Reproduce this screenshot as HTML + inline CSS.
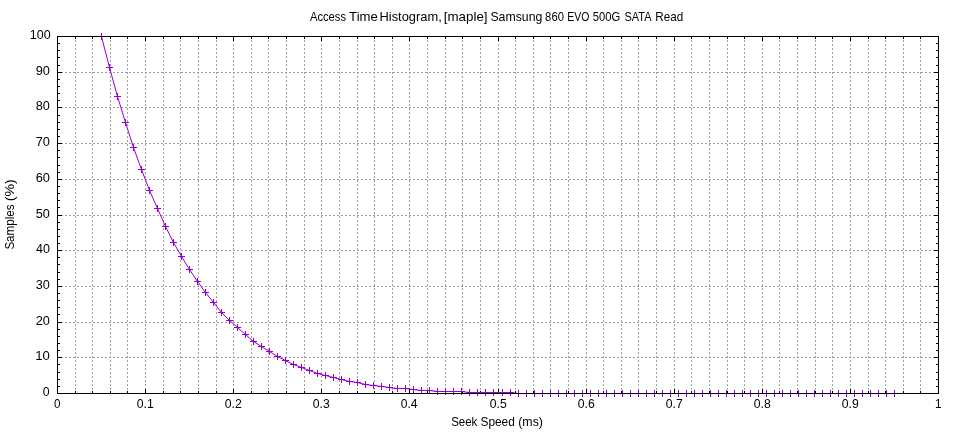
<!DOCTYPE html>
<html><head><meta charset="utf-8"><title>Access Time Histogram</title>
<style>html,body{margin:0;padding:0;background:#fff;overflow:hidden}svg{display:block;will-change:transform}text{font-family:"Liberation Sans",sans-serif;fill:#000}</style></head><body>
<svg width="960" height="432" viewBox="0 0 960 432">
<rect width="960" height="432" fill="#fff"/>
<g shape-rendering="crispEdges" stroke="#a0a0a0" stroke-width="1" stroke-dasharray="2 2" fill="none">
<path d="M75.5 394 V36"/>
<path d="M92.5 394 V36"/>
<path d="M110.5 394 V36"/>
<path d="M127.5 394 V36"/>
<path d="M145.5 394 V36"/>
<path d="M163.5 394 V36"/>
<path d="M180.5 394 V36"/>
<path d="M198.5 394 V36"/>
<path d="M216.5 394 V36"/>
<path d="M233.5 394 V36"/>
<path d="M251.5 394 V36"/>
<path d="M268.5 394 V36"/>
<path d="M286.5 394 V36"/>
<path d="M304.5 394 V36"/>
<path d="M321.5 394 V36"/>
<path d="M339.5 394 V36"/>
<path d="M357.5 394 V36"/>
<path d="M374.5 394 V36"/>
<path d="M392.5 394 V36"/>
<path d="M409.5 394 V36"/>
<path d="M427.5 394 V36"/>
<path d="M445.5 394 V36"/>
<path d="M462.5 394 V36"/>
<path d="M480.5 394 V36"/>
<path d="M498.5 394 V36"/>
<path d="M515.5 394 V36"/>
<path d="M533.5 394 V36"/>
<path d="M550.5 394 V36"/>
<path d="M568.5 394 V36"/>
<path d="M586.5 394 V36"/>
<path d="M603.5 394 V36"/>
<path d="M621.5 394 V36"/>
<path d="M638.5 394 V36"/>
<path d="M656.5 394 V36"/>
<path d="M674.5 394 V36"/>
<path d="M691.5 394 V36"/>
<path d="M709.5 394 V36"/>
<path d="M727.5 394 V36"/>
<path d="M744.5 394 V36"/>
<path d="M762.5 394 V36"/>
<path d="M779.5 394 V36"/>
<path d="M797.5 394 V36"/>
<path d="M815.5 394 V36"/>
<path d="M832.5 394 V36"/>
<path d="M850.5 394 V36"/>
<path d="M868.5 394 V36"/>
<path d="M885.5 394 V36"/>
<path d="M903.5 394 V36"/>
<path d="M920.5 394 V36"/>
<path d="M57 357.5 H939"/>
<path d="M57 322.5 H939"/>
<path d="M57 286.5 H939"/>
<path d="M57 250.5 H939"/>
<path d="M57 215.5 H939"/>
<path d="M57 179.5 H939"/>
<path d="M57 143.5 H939"/>
<path d="M57 107.5 H939"/>
<path d="M57 72.5 H939"/>
</g>
<g shape-rendering="crispEdges" fill="#000">
<rect x="57" y="389" width="1" height="4"/>
<rect x="57" y="37" width="1" height="4"/>
<rect x="75" y="391" width="1" height="2"/>
<rect x="75" y="37" width="1" height="2"/>
<rect x="92" y="391" width="1" height="2"/>
<rect x="92" y="37" width="1" height="2"/>
<rect x="110" y="391" width="1" height="2"/>
<rect x="110" y="37" width="1" height="2"/>
<rect x="127" y="391" width="1" height="2"/>
<rect x="127" y="37" width="1" height="2"/>
<rect x="145" y="389" width="1" height="4"/>
<rect x="145" y="37" width="1" height="4"/>
<rect x="163" y="391" width="1" height="2"/>
<rect x="163" y="37" width="1" height="2"/>
<rect x="180" y="391" width="1" height="2"/>
<rect x="180" y="37" width="1" height="2"/>
<rect x="198" y="391" width="1" height="2"/>
<rect x="198" y="37" width="1" height="2"/>
<rect x="216" y="391" width="1" height="2"/>
<rect x="216" y="37" width="1" height="2"/>
<rect x="233" y="389" width="1" height="4"/>
<rect x="233" y="37" width="1" height="4"/>
<rect x="251" y="391" width="1" height="2"/>
<rect x="251" y="37" width="1" height="2"/>
<rect x="268" y="391" width="1" height="2"/>
<rect x="268" y="37" width="1" height="2"/>
<rect x="286" y="391" width="1" height="2"/>
<rect x="286" y="37" width="1" height="2"/>
<rect x="304" y="391" width="1" height="2"/>
<rect x="304" y="37" width="1" height="2"/>
<rect x="321" y="389" width="1" height="4"/>
<rect x="321" y="37" width="1" height="4"/>
<rect x="339" y="391" width="1" height="2"/>
<rect x="339" y="37" width="1" height="2"/>
<rect x="357" y="391" width="1" height="2"/>
<rect x="357" y="37" width="1" height="2"/>
<rect x="374" y="391" width="1" height="2"/>
<rect x="374" y="37" width="1" height="2"/>
<rect x="392" y="391" width="1" height="2"/>
<rect x="392" y="37" width="1" height="2"/>
<rect x="409" y="389" width="1" height="4"/>
<rect x="409" y="37" width="1" height="4"/>
<rect x="427" y="391" width="1" height="2"/>
<rect x="427" y="37" width="1" height="2"/>
<rect x="445" y="391" width="1" height="2"/>
<rect x="445" y="37" width="1" height="2"/>
<rect x="462" y="391" width="1" height="2"/>
<rect x="462" y="37" width="1" height="2"/>
<rect x="480" y="391" width="1" height="2"/>
<rect x="480" y="37" width="1" height="2"/>
<rect x="498" y="389" width="1" height="4"/>
<rect x="498" y="37" width="1" height="4"/>
<rect x="515" y="391" width="1" height="2"/>
<rect x="515" y="37" width="1" height="2"/>
<rect x="533" y="391" width="1" height="2"/>
<rect x="533" y="37" width="1" height="2"/>
<rect x="550" y="391" width="1" height="2"/>
<rect x="550" y="37" width="1" height="2"/>
<rect x="568" y="391" width="1" height="2"/>
<rect x="568" y="37" width="1" height="2"/>
<rect x="586" y="389" width="1" height="4"/>
<rect x="586" y="37" width="1" height="4"/>
<rect x="603" y="391" width="1" height="2"/>
<rect x="603" y="37" width="1" height="2"/>
<rect x="621" y="391" width="1" height="2"/>
<rect x="621" y="37" width="1" height="2"/>
<rect x="638" y="391" width="1" height="2"/>
<rect x="638" y="37" width="1" height="2"/>
<rect x="656" y="391" width="1" height="2"/>
<rect x="656" y="37" width="1" height="2"/>
<rect x="674" y="389" width="1" height="4"/>
<rect x="674" y="37" width="1" height="4"/>
<rect x="691" y="391" width="1" height="2"/>
<rect x="691" y="37" width="1" height="2"/>
<rect x="709" y="391" width="1" height="2"/>
<rect x="709" y="37" width="1" height="2"/>
<rect x="727" y="391" width="1" height="2"/>
<rect x="727" y="37" width="1" height="2"/>
<rect x="744" y="391" width="1" height="2"/>
<rect x="744" y="37" width="1" height="2"/>
<rect x="762" y="389" width="1" height="4"/>
<rect x="762" y="37" width="1" height="4"/>
<rect x="779" y="391" width="1" height="2"/>
<rect x="779" y="37" width="1" height="2"/>
<rect x="797" y="391" width="1" height="2"/>
<rect x="797" y="37" width="1" height="2"/>
<rect x="815" y="391" width="1" height="2"/>
<rect x="815" y="37" width="1" height="2"/>
<rect x="832" y="391" width="1" height="2"/>
<rect x="832" y="37" width="1" height="2"/>
<rect x="850" y="389" width="1" height="4"/>
<rect x="850" y="37" width="1" height="4"/>
<rect x="868" y="391" width="1" height="2"/>
<rect x="868" y="37" width="1" height="2"/>
<rect x="885" y="391" width="1" height="2"/>
<rect x="885" y="37" width="1" height="2"/>
<rect x="903" y="391" width="1" height="2"/>
<rect x="903" y="37" width="1" height="2"/>
<rect x="920" y="391" width="1" height="2"/>
<rect x="920" y="37" width="1" height="2"/>
<rect x="938" y="389" width="1" height="4"/>
<rect x="938" y="37" width="1" height="4"/>
<rect x="58" y="393" width="4" height="1"/>
<rect x="934" y="393" width="4" height="1"/>
<rect x="58" y="386" width="2" height="1"/>
<rect x="936" y="386" width="2" height="1"/>
<rect x="58" y="379" width="2" height="1"/>
<rect x="936" y="379" width="2" height="1"/>
<rect x="58" y="372" width="2" height="1"/>
<rect x="936" y="372" width="2" height="1"/>
<rect x="58" y="364" width="2" height="1"/>
<rect x="936" y="364" width="2" height="1"/>
<rect x="58" y="357" width="4" height="1"/>
<rect x="934" y="357" width="4" height="1"/>
<rect x="58" y="350" width="2" height="1"/>
<rect x="936" y="350" width="2" height="1"/>
<rect x="58" y="343" width="2" height="1"/>
<rect x="936" y="343" width="2" height="1"/>
<rect x="58" y="336" width="2" height="1"/>
<rect x="936" y="336" width="2" height="1"/>
<rect x="58" y="329" width="2" height="1"/>
<rect x="936" y="329" width="2" height="1"/>
<rect x="58" y="322" width="4" height="1"/>
<rect x="934" y="322" width="4" height="1"/>
<rect x="58" y="314" width="2" height="1"/>
<rect x="936" y="314" width="2" height="1"/>
<rect x="58" y="307" width="2" height="1"/>
<rect x="936" y="307" width="2" height="1"/>
<rect x="58" y="300" width="2" height="1"/>
<rect x="936" y="300" width="2" height="1"/>
<rect x="58" y="293" width="2" height="1"/>
<rect x="936" y="293" width="2" height="1"/>
<rect x="58" y="286" width="4" height="1"/>
<rect x="934" y="286" width="4" height="1"/>
<rect x="58" y="279" width="2" height="1"/>
<rect x="936" y="279" width="2" height="1"/>
<rect x="58" y="272" width="2" height="1"/>
<rect x="936" y="272" width="2" height="1"/>
<rect x="58" y="264" width="2" height="1"/>
<rect x="936" y="264" width="2" height="1"/>
<rect x="58" y="257" width="2" height="1"/>
<rect x="936" y="257" width="2" height="1"/>
<rect x="58" y="250" width="4" height="1"/>
<rect x="934" y="250" width="4" height="1"/>
<rect x="58" y="243" width="2" height="1"/>
<rect x="936" y="243" width="2" height="1"/>
<rect x="58" y="236" width="2" height="1"/>
<rect x="936" y="236" width="2" height="1"/>
<rect x="58" y="229" width="2" height="1"/>
<rect x="936" y="229" width="2" height="1"/>
<rect x="58" y="222" width="2" height="1"/>
<rect x="936" y="222" width="2" height="1"/>
<rect x="58" y="215" width="4" height="1"/>
<rect x="934" y="215" width="4" height="1"/>
<rect x="58" y="207" width="2" height="1"/>
<rect x="936" y="207" width="2" height="1"/>
<rect x="58" y="200" width="2" height="1"/>
<rect x="936" y="200" width="2" height="1"/>
<rect x="58" y="193" width="2" height="1"/>
<rect x="936" y="193" width="2" height="1"/>
<rect x="58" y="186" width="2" height="1"/>
<rect x="936" y="186" width="2" height="1"/>
<rect x="58" y="179" width="4" height="1"/>
<rect x="934" y="179" width="4" height="1"/>
<rect x="58" y="172" width="2" height="1"/>
<rect x="936" y="172" width="2" height="1"/>
<rect x="58" y="165" width="2" height="1"/>
<rect x="936" y="165" width="2" height="1"/>
<rect x="58" y="157" width="2" height="1"/>
<rect x="936" y="157" width="2" height="1"/>
<rect x="58" y="150" width="2" height="1"/>
<rect x="936" y="150" width="2" height="1"/>
<rect x="58" y="143" width="4" height="1"/>
<rect x="934" y="143" width="4" height="1"/>
<rect x="58" y="136" width="2" height="1"/>
<rect x="936" y="136" width="2" height="1"/>
<rect x="58" y="129" width="2" height="1"/>
<rect x="936" y="129" width="2" height="1"/>
<rect x="58" y="122" width="2" height="1"/>
<rect x="936" y="122" width="2" height="1"/>
<rect x="58" y="115" width="2" height="1"/>
<rect x="936" y="115" width="2" height="1"/>
<rect x="58" y="107" width="4" height="1"/>
<rect x="934" y="107" width="4" height="1"/>
<rect x="58" y="100" width="2" height="1"/>
<rect x="936" y="100" width="2" height="1"/>
<rect x="58" y="93" width="2" height="1"/>
<rect x="936" y="93" width="2" height="1"/>
<rect x="58" y="86" width="2" height="1"/>
<rect x="936" y="86" width="2" height="1"/>
<rect x="58" y="79" width="2" height="1"/>
<rect x="936" y="79" width="2" height="1"/>
<rect x="58" y="72" width="4" height="1"/>
<rect x="934" y="72" width="4" height="1"/>
<rect x="58" y="65" width="2" height="1"/>
<rect x="936" y="65" width="2" height="1"/>
<rect x="58" y="57" width="2" height="1"/>
<rect x="936" y="57" width="2" height="1"/>
<rect x="58" y="50" width="2" height="1"/>
<rect x="936" y="50" width="2" height="1"/>
<rect x="58" y="43" width="2" height="1"/>
<rect x="936" y="43" width="2" height="1"/>
<rect x="58" y="36" width="4" height="1"/>
<rect x="934" y="36" width="4" height="1"/>
</g>
<g stroke="#9400d3" fill="none">
<path d="M101.50 36.50 L109.50 67.50 L117.50 96.50 L125.50 122.50 L133.50 147.50 L141.50 169.50 L149.50 190.50 L157.50 208.50 L165.50 226.50 L173.50 242.50 L181.50 256.50 L189.50 269.50 L197.50 281.50 L205.50 292.50 L213.50 302.50 L221.50 312.50 L229.50 320.50 L237.50 327.50 L245.50 334.50 L253.50 341.50 L261.50 346.50 L269.50 351.50 L277.50 356.50 L285.50 360.50 L293.50 364.50 L301.50 367.50 L309.50 370.50 L317.50 373.50 L325.50 375.50 L333.50 377.50 L341.50 379.50 L349.50 381.50 L357.50 382.50 L365.50 384.50 L373.50 385.50 L381.50 386.50 L389.50 387.50 L397.50 388.50 L405.50 388.50 L413.50 389.50 L421.50 390.50 L429.50 390.50 L437.50 391.50 L445.50 391.50 L453.50 391.50 L461.50 391.50 L469.50 392.50 L477.50 392.50 L485.50 392.50 L493.50 392.50 L502.50 392.50 L510.50 392.50 L518.50 393.50 L526.50 393.50 L534.50 393.50 L542.50 393.50 L550.50 393.50 L558.50 393.50 L566.50 393.50 L574.50 393.50 L582.50 393.50 L590.50 393.50 L598.50 393.50 L606.50 393.50 L614.50 393.50 L622.50 393.50 L630.50 393.50 L638.50 393.50 L646.50 393.50 L654.50 393.50 L662.50 393.50 L670.50 393.50 L678.50 393.50 L686.50 393.50 L694.50 393.50 L702.50 393.50 L710.50 393.50 L718.50 393.50 L726.50 393.50 L734.50 393.50 L742.50 393.50 L750.50 393.50 L758.50 393.50 L766.50 393.50 L774.50 393.50 L782.50 393.50 L790.50 393.50 L798.50 393.50 L806.50 393.50 L814.50 393.50 L822.50 393.50 L830.50 393.50 L838.50 393.50 L846.50 393.50 L854.50 393.50 L862.50 393.50 L870.50 393.50 L878.50 393.50 L886.50 393.50 L894.50 393.50" stroke-width="1" stroke-linejoin="round"/>
<path d="M98.0 36.5h7M101.5 33.0v7M106.0 67.5h7M109.5 64.0v7M114.0 96.5h7M117.5 93.0v7M122.0 122.5h7M125.5 119.0v7M130.0 147.5h7M133.5 144.0v7M138.0 169.5h7M141.5 166.0v7M146.0 190.5h7M149.5 187.0v7M154.0 208.5h7M157.5 205.0v7M162.0 226.5h7M165.5 223.0v7M170.0 242.5h7M173.5 239.0v7M178.0 256.5h7M181.5 253.0v7M186.0 269.5h7M189.5 266.0v7M194.0 281.5h7M197.5 278.0v7M202.0 292.5h7M205.5 289.0v7M210.0 302.5h7M213.5 299.0v7M218.0 312.5h7M221.5 309.0v7M226.0 320.5h7M229.5 317.0v7M234.0 327.5h7M237.5 324.0v7M242.0 334.5h7M245.5 331.0v7M250.0 341.5h7M253.5 338.0v7M258.0 346.5h7M261.5 343.0v7M266.0 351.5h7M269.5 348.0v7M274.0 356.5h7M277.5 353.0v7M282.0 360.5h7M285.5 357.0v7M290.0 364.5h7M293.5 361.0v7M298.0 367.5h7M301.5 364.0v7M306.0 370.5h7M309.5 367.0v7M314.0 373.5h7M317.5 370.0v7M322.0 375.5h7M325.5 372.0v7M330.0 377.5h7M333.5 374.0v7M338.0 379.5h7M341.5 376.0v7M346.0 381.5h7M349.5 378.0v7M354.0 382.5h7M357.5 379.0v7M362.0 384.5h7M365.5 381.0v7M370.0 385.5h7M373.5 382.0v7M378.0 386.5h7M381.5 383.0v7M386.0 387.5h7M389.5 384.0v7M394.0 388.5h7M397.5 385.0v7M402.0 388.5h7M405.5 385.0v7M410.0 389.5h7M413.5 386.0v7M418.0 390.5h7M421.5 387.0v7M426.0 390.5h7M429.5 387.0v7M434.0 391.5h7M437.5 388.0v7M442.0 391.5h7M445.5 388.0v7M450.0 391.5h7M453.5 388.0v7M458.0 391.5h7M461.5 388.0v7M466.0 392.5h7M469.5 389.0v7M474.0 392.5h7M477.5 389.0v7M482.0 392.5h7M485.5 389.0v7M490.0 392.5h7M493.5 389.0v7M499.0 392.5h7M502.5 389.0v7M507.0 392.5h7M510.5 389.0v7M515.0 393.5h7M518.5 390.0v7M523.0 393.5h7M526.5 390.0v7M531.0 393.5h7M534.5 390.0v7M539.0 393.5h7M542.5 390.0v7M547.0 393.5h7M550.5 390.0v7M555.0 393.5h7M558.5 390.0v7M563.0 393.5h7M566.5 390.0v7M571.0 393.5h7M574.5 390.0v7M579.0 393.5h7M582.5 390.0v7M587.0 393.5h7M590.5 390.0v7M595.0 393.5h7M598.5 390.0v7M603.0 393.5h7M606.5 390.0v7M611.0 393.5h7M614.5 390.0v7M619.0 393.5h7M622.5 390.0v7M627.0 393.5h7M630.5 390.0v7M635.0 393.5h7M638.5 390.0v7M643.0 393.5h7M646.5 390.0v7M651.0 393.5h7M654.5 390.0v7M659.0 393.5h7M662.5 390.0v7M667.0 393.5h7M670.5 390.0v7M675.0 393.5h7M678.5 390.0v7M683.0 393.5h7M686.5 390.0v7M691.0 393.5h7M694.5 390.0v7M699.0 393.5h7M702.5 390.0v7M707.0 393.5h7M710.5 390.0v7M715.0 393.5h7M718.5 390.0v7M723.0 393.5h7M726.5 390.0v7M731.0 393.5h7M734.5 390.0v7M739.0 393.5h7M742.5 390.0v7M747.0 393.5h7M750.5 390.0v7M755.0 393.5h7M758.5 390.0v7M763.0 393.5h7M766.5 390.0v7M771.0 393.5h7M774.5 390.0v7M779.0 393.5h7M782.5 390.0v7M787.0 393.5h7M790.5 390.0v7M795.0 393.5h7M798.5 390.0v7M803.0 393.5h7M806.5 390.0v7M811.0 393.5h7M814.5 390.0v7M819.0 393.5h7M822.5 390.0v7M827.0 393.5h7M830.5 390.0v7M835.0 393.5h7M838.5 390.0v7M843.0 393.5h7M846.5 390.0v7M851.0 393.5h7M854.5 390.0v7M859.0 393.5h7M862.5 390.0v7M867.0 393.5h7M870.5 390.0v7M875.0 393.5h7M878.5 390.0v7M883.0 393.5h7M886.5 390.0v7M891.0 393.5h7M894.5 390.0v7" stroke-width="1"/>
</g>
<g shape-rendering="crispEdges" fill="#000">
<rect x="57" y="36" width="882" height="1"/>
<rect x="57" y="393" width="882" height="1"/>
<rect x="57" y="36" width="1" height="358"/>
<rect x="938" y="36" width="1" height="358"/>
</g>
<text x="42.64" y="396.00" font-size="12.80" textLength="6.84" lengthAdjust="spacingAndGlyphs">0</text>
<text x="35.32" y="360.00" font-size="12.80" textLength="14.61" lengthAdjust="spacingAndGlyphs">10</text>
<text x="35.66" y="325.00" font-size="12.80" textLength="14.25" lengthAdjust="spacingAndGlyphs">20</text>
<text x="35.83" y="289.00" font-size="12.80" textLength="14.08" lengthAdjust="spacingAndGlyphs">30</text>
<text x="36.02" y="253.00" font-size="12.80" textLength="13.88" lengthAdjust="spacingAndGlyphs">40</text>
<text x="35.79" y="218.00" font-size="12.80" textLength="14.11" lengthAdjust="spacingAndGlyphs">50</text>
<text x="35.66" y="182.00" font-size="12.80" textLength="14.25" lengthAdjust="spacingAndGlyphs">60</text>
<text x="35.66" y="146.00" font-size="12.80" textLength="14.25" lengthAdjust="spacingAndGlyphs">70</text>
<text x="35.76" y="110.00" font-size="12.80" textLength="14.15" lengthAdjust="spacingAndGlyphs">80</text>
<text x="35.69" y="75.00" font-size="12.80" textLength="14.22" lengthAdjust="spacingAndGlyphs">90</text>
<text x="29.86" y="39.00" font-size="12.80" textLength="20.87" lengthAdjust="spacingAndGlyphs">100</text>
<text x="53.96" y="408.00" font-size="12.80" textLength="6.49" lengthAdjust="spacingAndGlyphs">0</text>
<text x="136.74" y="408.00" font-size="12.80" textLength="17.04" lengthAdjust="spacingAndGlyphs">0.1</text>
<text x="224.74" y="408.00" font-size="12.80" textLength="17.04" lengthAdjust="spacingAndGlyphs">0.2</text>
<text x="312.74" y="408.00" font-size="12.80" textLength="16.98" lengthAdjust="spacingAndGlyphs">0.3</text>
<text x="400.75" y="408.00" font-size="12.80" textLength="16.79" lengthAdjust="spacingAndGlyphs">0.4</text>
<text x="489.74" y="408.00" font-size="12.80" textLength="16.95" lengthAdjust="spacingAndGlyphs">0.5</text>
<text x="577.74" y="408.00" font-size="12.80" textLength="16.98" lengthAdjust="spacingAndGlyphs">0.6</text>
<text x="665.74" y="408.00" font-size="12.80" textLength="17.04" lengthAdjust="spacingAndGlyphs">0.7</text>
<text x="753.74" y="408.00" font-size="12.80" textLength="16.98" lengthAdjust="spacingAndGlyphs">0.8</text>
<text x="841.74" y="408.00" font-size="12.80" textLength="17.01" lengthAdjust="spacingAndGlyphs">0.9</text>
<text x="935.02" y="408.00" font-size="12.80" textLength="6.56" lengthAdjust="spacingAndGlyphs">1</text>
<text x="309.97" y="21.00" font-size="13.10" textLength="36.03" lengthAdjust="spacingAndGlyphs">Access</text>
<text x="349.10" y="21.00" font-size="13.10" textLength="28.71" lengthAdjust="spacingAndGlyphs">Time</text>
<text x="379.54" y="21.00" font-size="13.10" textLength="62.21" lengthAdjust="spacingAndGlyphs">Histogram,</text>
<text x="443.82" y="21.00" font-size="13.10" textLength="43.71" lengthAdjust="spacingAndGlyphs">[maple]</text>
<text x="490.45" y="21.00" font-size="13.10" textLength="51.85" lengthAdjust="spacingAndGlyphs">Samsung</text>
<text x="545.12" y="21.00" font-size="13.10" textLength="18.81" lengthAdjust="spacingAndGlyphs">860</text>
<text x="567.23" y="21.00" font-size="13.10" textLength="22.16" lengthAdjust="spacingAndGlyphs">EVO</text>
<text x="592.85" y="21.00" font-size="13.10" textLength="27.40" lengthAdjust="spacingAndGlyphs">500G</text>
<text x="624.51" y="21.00" font-size="13.10" textLength="27.00" lengthAdjust="spacingAndGlyphs">SATA</text>
<text x="655.29" y="21.00" font-size="13.10" textLength="27.95" lengthAdjust="spacingAndGlyphs">Read</text>
<text x="451.18" y="425.50" font-size="12.80" textLength="26.11" lengthAdjust="spacingAndGlyphs">Seek</text>
<text x="480.46" y="425.50" font-size="12.80" textLength="34.40" lengthAdjust="spacingAndGlyphs">Speed</text>
<text x="518.23" y="425.50" font-size="12.80" textLength="24.73" lengthAdjust="spacingAndGlyphs">(ms)</text>
<text transform="translate(13.60 249.62) rotate(-90)" font-size="12.80" textLength="45.14" lengthAdjust="spacingAndGlyphs">Samples</text>
<text transform="translate(13.60 201.29) rotate(-90)" font-size="12.80" textLength="22.15" lengthAdjust="spacingAndGlyphs">(%)</text>
</svg></body></html>
